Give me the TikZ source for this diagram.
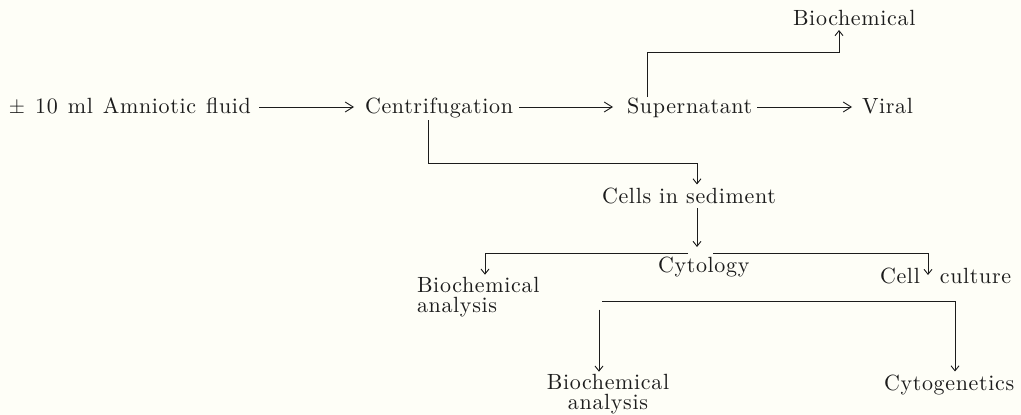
\documentclass[tikz,border=0pt]{standalone}
\usepackage{fontspec}
\setmainfont{lmroman10-regular.otf}[LetterSpace=3]
\usetikzlibrary{arrows.meta}
\definecolor{paper}{RGB}{254,254,247}
\definecolor{ink}{RGB}{28,28,28}
\begin{document}
\begin{tikzpicture}[x=1pt,y=-1pt,
  lbl/.style={anchor=base west,inner sep=0pt,outer sep=0pt,font=\fontsize{22}{20}\selectfont,text=ink},
  ln/.style={draw=ink,line width=0.9pt},
  harr/.style={ln,-{Straight Barb[length=8pt,width=10pt]}},
  varr/.style={ln,-{Straight Barb[length=5pt,width=8pt]}}]
\fill[paper] (0,0) rectangle (1021,415);
\useasboundingbox (0,0) rectangle (1021,415);
% nodes
\node[lbl] (amnio) at (9,113) {\spaceskip=10pt $\pm$ 10 ml Amniotic fluid};
\node[lbl] (centr) at (365,113) {Centrifugation};
\node[lbl] (super) at (627,113) {Supernatant};
\node[lbl] (viral) at (862,113) {Viral};
\node[lbl] (bioT) at (793,25) {Biochemical};
\node[lbl] (cells) at (602,203) {\spaceskip=8pt Cells in sediment};
\node[lbl] (cyto) at (658,272) {Cytology};
\node[lbl,anchor=north west,align=left] (bioL) at (417,277.7) {Biochemical\\analysis};
\node[lbl] (cellc) at (880,283) {Cell\hspace{20pt}culture};
\node[lbl,anchor=north,align=center] (bioB) at (608,374.7) {Biochemical\\analysis};
\node[lbl] (cytog) at (884,390) {Cytogenetics};
% main row
\draw[harr] ([xshift=250pt,yshift=6pt]amnio.base west) -- ([xshift=-11pt,yshift=6pt]centr.base west);
\draw[harr] ([xshift=154pt,yshift=6pt]centr.base west) -- ([xshift=-14pt,yshift=6pt]super.base west);
\draw[harr] ([xshift=130pt,yshift=6pt]super.base west) -- ([xshift=-10pt,yshift=6pt]viral.base west);
% supernatant -> biochemical
\draw[varr] ([xshift=20pt,yshift=16pt]super.base west) -- ++(0,-45) -| ([xshift=46pt,yshift=-5pt]bioT.base west);
% centrifugation -> cells in sediment
\draw[varr] ([xshift=63pt,yshift=-7pt]centr.base west) -- ++(0,43) -| ([xshift=95pt,yshift=3pt]cells.north west);
% cells -> branch
\draw[varr] ([xshift=95pt,yshift=-5pt]cells.base west) -- ([xshift=95pt,yshift=-44pt]cells.base west);
\draw[varr] ([xshift=30pt,yshift=19pt]cyto.base west) -| ([xshift=68pt,yshift=3pt]bioL.north west);
\draw[varr] ([xshift=55pt,yshift=19pt]cyto.base west) -| ([xshift=48pt,yshift=8pt]cellc.base west);
% cell culture -> analyses
\draw[varr] ([xshift=-278pt,yshift=-18pt]cellc.base west) -| ([xshift=71pt,yshift=3pt]cytog.north west);
\draw[varr] ([xshift=-9pt,yshift=65pt]bioB.north) -- ([xshift=-9pt,yshift=3pt]bioB.north);
\end{tikzpicture}
\end{document}
